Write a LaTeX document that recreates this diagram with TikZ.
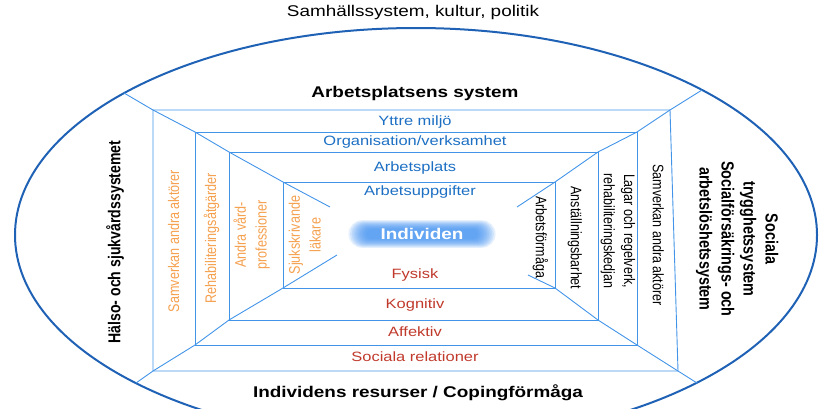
\documentclass[tikz,border=0pt]{standalone}
\usepackage{fontspec}
\setmainfont{Liberation Sans}
\usepackage{tikz}
\definecolor{wallblue}{HTML}{4294E8}
\definecolor{rimblue}{HTML}{1F62B5}
\definecolor{layblue}{HTML}{1C6FC3}
\definecolor{resred}{HTML}{C0392B}
\definecolor{careorange}{HTML}{F5A04E}
\definecolor{glowblue}{HTML}{3F8FF0}
\newcommand{\widetxt}[1]{\scalebox{1.22}[1]{#1}}
\newcommand{\talltxt}[1]{\scalebox{1}[1.22]{\begin{tabular}{@{}c@{}}#1\end{tabular}}}

\begin{document}
\begin{tikzpicture}[
    x=1pt, y=-1pt,
    wall/.style={draw=wallblue, line width=0.9pt},
    rim/.style={draw=rimblue, line width=2pt},
    title/.style={inner sep=0pt, font=\fontsize{15.5}{18}\selectfont},
    head/.style={inner sep=0pt, font=\fontsize{15.5}{18}\selectfont\bfseries},
    layer/.style={inner sep=0pt, text=layblue, font=\fontsize{13.5}{16}\selectfont},
    res/.style={inner sep=0pt, text=resred, font=\fontsize{13.5}{16}\selectfont},
    care/.style={inner sep=0pt, rotate=90, text=careorange, font=\fontsize{12.6}{17}\selectfont},
    ssys/.style={inner sep=0pt, rotate=-90, font=\fontsize{12.5}{16.5}\selectfont}
  ]
  \useasboundingbox (0,0) rectangle (821,408);
  \coordinate (mid) at (416,235);
  \coordinate (ynw) at (153,110); \coordinate (yne) at (670,110);
  \coordinate (yse) at (678,371); \coordinate (ysw) at (153,371);
  \coordinate (onw) at (195,132); \coordinate (one) at (637,132);
  \coordinate (ose) at (637,345); \coordinate (osw) at (195,345);
  \coordinate (pnw) at (229,152); \coordinate (pne) at (598,152);
  \coordinate (pse) at (598,320); \coordinate (psw) at (229,320);
  \coordinate (unw) at (283,182); \coordinate (une) at (555,182);
  \coordinate (use) at (555,288); \coordinate (usw) at (283,288);
  \coordinate (rnw) at (124,93);  \coordinate (rne) at (702,90);
  \coordinate (rsw) at (136,383); \coordinate (rse) at (697,383);
  \coordinate (tnw) at (330,207); \coordinate (tne) at (517,207);
  \coordinate (tsw) at (337,255); \coordinate (tse) at (528,275);

  \draw[rim] (mid) ellipse [x radius=401, y radius=207];
  \draw[wall] (ynw) -- (yne) -- (yse) -- (ysw) -- cycle;
  \draw[wall] (onw) -- (one) -- (ose) -- (osw) -- cycle;
  \draw[wall] (pnw) -- (pne) -- (pse) -- (psw) -- cycle;
  \draw[wall] (unw) -- (une) -- (use) -- (usw) -- cycle;
  \draw[wall] (rnw) -- (ynw) -- (onw) -- (pnw) -- (unw) -- (tnw);
  \draw[wall] (rne) -- (yne) -- (one) -- (pne) -- (une) -- (tne);
  \draw[wall] (rsw) -- (ysw) -- (osw) -- (psw) -- (usw) -- (tsw);
  \draw[wall] (rse) -- (yse) -- (ose) -- (pse) -- (use) -- (tse);

  \foreach \i [evaluate=\i as \w using 56+1.6*\i, evaluate=\i as \h using 5+0.8*\i] in {0,...,11}
    \fill[glowblue, opacity=0.13, rounded corners=\h pt] (422-\w,234-\h) rectangle (422+\w,234+\h);

  \node[title] (samh) at (413,12) {\widetxt{Samhällssystem, kultur, politik}};
  \node[head] (arbsys) at (415,93) {\widetxt{Arbetsplatsens system}};
  \node[layer] (yttre) at (415,122) {\widetxt{Yttre miljö}};
  \node[layer] (org) at (415,142) {\widetxt{Organisation/verksamhet}};
  \node[layer] (plats) at (415,168) {\widetxt{Arbetsplats}};
  \node[layer] (uppg) at (420,192) {\widetxt{Arbetsuppgifter}};
  \node[head, text=white] (indiv) at (422,234) {\widetxt{Individen}};
  \node[res] (fysisk) at (415,275) {\widetxt{Fysisk}};
  \node[res] (kogn) at (415,305) {\widetxt{Kognitiv}};
  \node[res] (affekt) at (415,332) {\widetxt{Affektiv}};
  \node[res] (socrel) at (415,357) {\widetxt{Sociala relationer}};
  \node[head] (resurs) at (418,393) {\widetxt{Individens resurser / Copingförmåga}};

  \node[head, rotate=90, font=\fontsize{14.1}{18}\selectfont\bfseries] (halso) at (116,242) {\talltxt{Hälso- och sjukvårdssystemet}};
  \node[care] (samvl) at (175,241) {\talltxt{Samverkan andra aktörer}};
  \node[care] (rehab) at (212,238) {\talltxt{Rehabiliteringsåtgärder}};
  \node[care] (andra) at (252,235) {\talltxt{Andra vård-\\professioner}};
  \node[care] (sjuk) at (306,235) {\talltxt{Sjukskrivande\\läkare}};

  \node[ssys] (arbf) at (540,237) {\talltxt{Arbetsförmåga}};
  \node[ssys] (anst) at (575,238) {\talltxt{Anställningsbarhet}};
  \node[ssys] (lagar) at (618,231) {\talltxt{Lagar och regelverk,\\rehabiliteringskedjan}};
  \node[ssys] (samvr) at (657,235) {\talltxt{Samverkan andra aktörer}};
  \node[ssys, font=\fontsize{14.4}{18}\selectfont\bfseries] (social) at (737,239) {\talltxt{Sociala\\trygghetssystem\\Socialförsäkrings- och\\arbetslöshetssystem}};
\end{tikzpicture}
\end{document}
